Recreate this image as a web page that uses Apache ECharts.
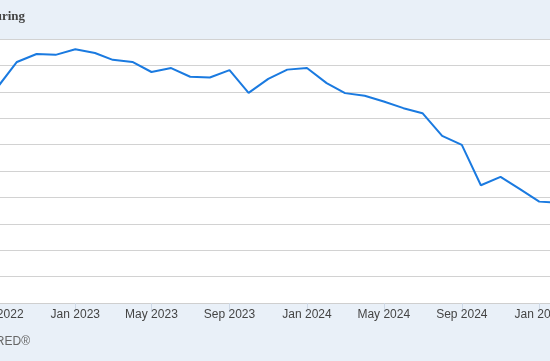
<!DOCTYPE html>
<html>
<head>
<meta charset="utf-8">
<script src="https://cdn.jsdelivr.net/npm/echarts@6/dist/echarts.min.js"></script>
<style>
html,body{margin:0;padding:0;background:#e9f0f8;}
#chart{width:550px;height:361px;}
</style>
</head>
<body>
<div id="chart"></div>
<script>
// Monthly observations (first of month)
const months = [
  "2022-09","2022-10","2022-11","2022-12",
  "2023-01","2023-02","2023-03","2023-04","2023-05","2023-06",
  "2023-07","2023-08","2023-09","2023-10","2023-11","2023-12",
  "2024-01","2024-02","2024-03","2024-04","2024-05","2024-06",
  "2024-07","2024-08","2024-09","2024-10","2024-11","2024-12",
  "2025-01","2025-02"
];
const values = [
  81.9, 91.3, 94.3, 94.0,
  96.1, 94.7, 92.1, 91.3, 87.5, 89.0,
  85.7, 85.4, 88.2, 79.6, 84.9, 88.4,
  89.0, 83.3, 79.5, 78.5, 76.3, 73.8,
  71.9, 63.3, 59.9, 44.6, 47.8, 43.2,
  38.4, 37.9
];
// x-axis tick labels
const tickMonths = ["2022-09","2023-01","2023-05","2023-09","2024-01","2024-05","2024-09","2025-01"];
const titleText = "Job Openings: Manufacturing";
const sourceText = "Source: FRED®";

const MONTHS = ["Jan","Feb","Mar","Apr","May","Jun","Jul","Aug","Sep","Oct","Nov","Dec"];
const DAY = 86400000;
const jan23 = Date.UTC(2023,0,1);
// x value = days since 2023-01-01
function toDay(s){ const p = s.split("-"); return (Date.UTC(+p[0], +p[1]-1, 1) - jan23)/DAY; }
function dayLabel(d){ const t=new Date(jan23 + Math.round(d)*DAY); return MONTHS[t.getUTCMonth()]+' '+t.getUTCFullYear(); }

const seriesData = months.map((m,i)=>[toDay(m), values[i]]);
const tickVals = tickMonths.map(toDay);
const X_MIN = -118.64, X_MAX = 747.93;
const inRange = tickVals.filter(v=>v>=X_MIN&&v<=X_MAX);
const LABEL_FONT = '12px "Liberation Sans", Arial, sans-serif';

const chart = echarts.init(document.getElementById('chart'), null, {renderer:'canvas'});
chart.setOption({
  animation:false,
  backgroundColor:'#e9f0f8',
  grid:{left:0,right:0,top:39,bottom:58,show:true,backgroundColor:'#ffffff',borderWidth:0,containLabel:false,outerBoundsMode:'none'},
  xAxis:{
    type:'value',
    min:X_MIN,
    max:X_MAX,
    axisLine:{show:true,lineStyle:{color:'#cfcfcf',width:1}},
    axisTick:{show:true,customValues:inRange,length:9,lineStyle:{color:'#cfd9e6',width:1}},
    axisLabel:{
      customValues:inRange,
      margin:6,
      color:'#444',
      fontFamily:'Liberation Sans, Arial, sans-serif',
      fontSize:12,
      hideOverlap:false,
      showMinLabel:true,
      showMaxLabel:true,
      formatter:function(v){ return dayLabel(v); }
    },
    splitLine:{show:false}
  },
  yAxis:{
    type:'value',
    min:0,max:100,interval:10,
    axisLine:{show:false},
    axisTick:{show:false},
    axisLabel:{show:false},
    splitLine:{show:true,lineStyle:{color:'#d2d2d2',width:1}}
  },
  series:[{
    type:'line',
    data:seriesData,
    showSymbol:false,
    symbol:'none',
    lineStyle:{color:'#1a7ae0',width:2},
    clip:true
  }]
});

// Tick labels that fall just outside the axis range (partly visible at the edge):
// placed through the axis scale so they line up with the others.
const axisY = chart.convertToPixel({yAxisIndex:0}, 0);
const extra = tickVals.filter(v=>v<X_MIN||v>X_MAX).map(v=>({
  type:'text',
  x: chart.convertToPixel({xAxisIndex:0}, v),
  y: axisY + 6,
  silent:true,
  style:{text:dayLabel(v),textAlign:'center',textVerticalAlign:'top',fill:'#444',font:LABEL_FONT}
}));
chart.setOption({graphic: [
  {type:'text',x:25,y:17,silent:true,style:{text:titleText,textAlign:'right',textVerticalAlign:'middle',fill:'#444',font:'bold 13px "Liberation Serif", "DejaVu Serif", serif'}},
  {type:'text',x:30,y:342,silent:true,style:{text:sourceText,textAlign:'right',textVerticalAlign:'middle',fill:'#666',font:LABEL_FONT}}
].concat(extra)});
</script>
</body>
</html>
